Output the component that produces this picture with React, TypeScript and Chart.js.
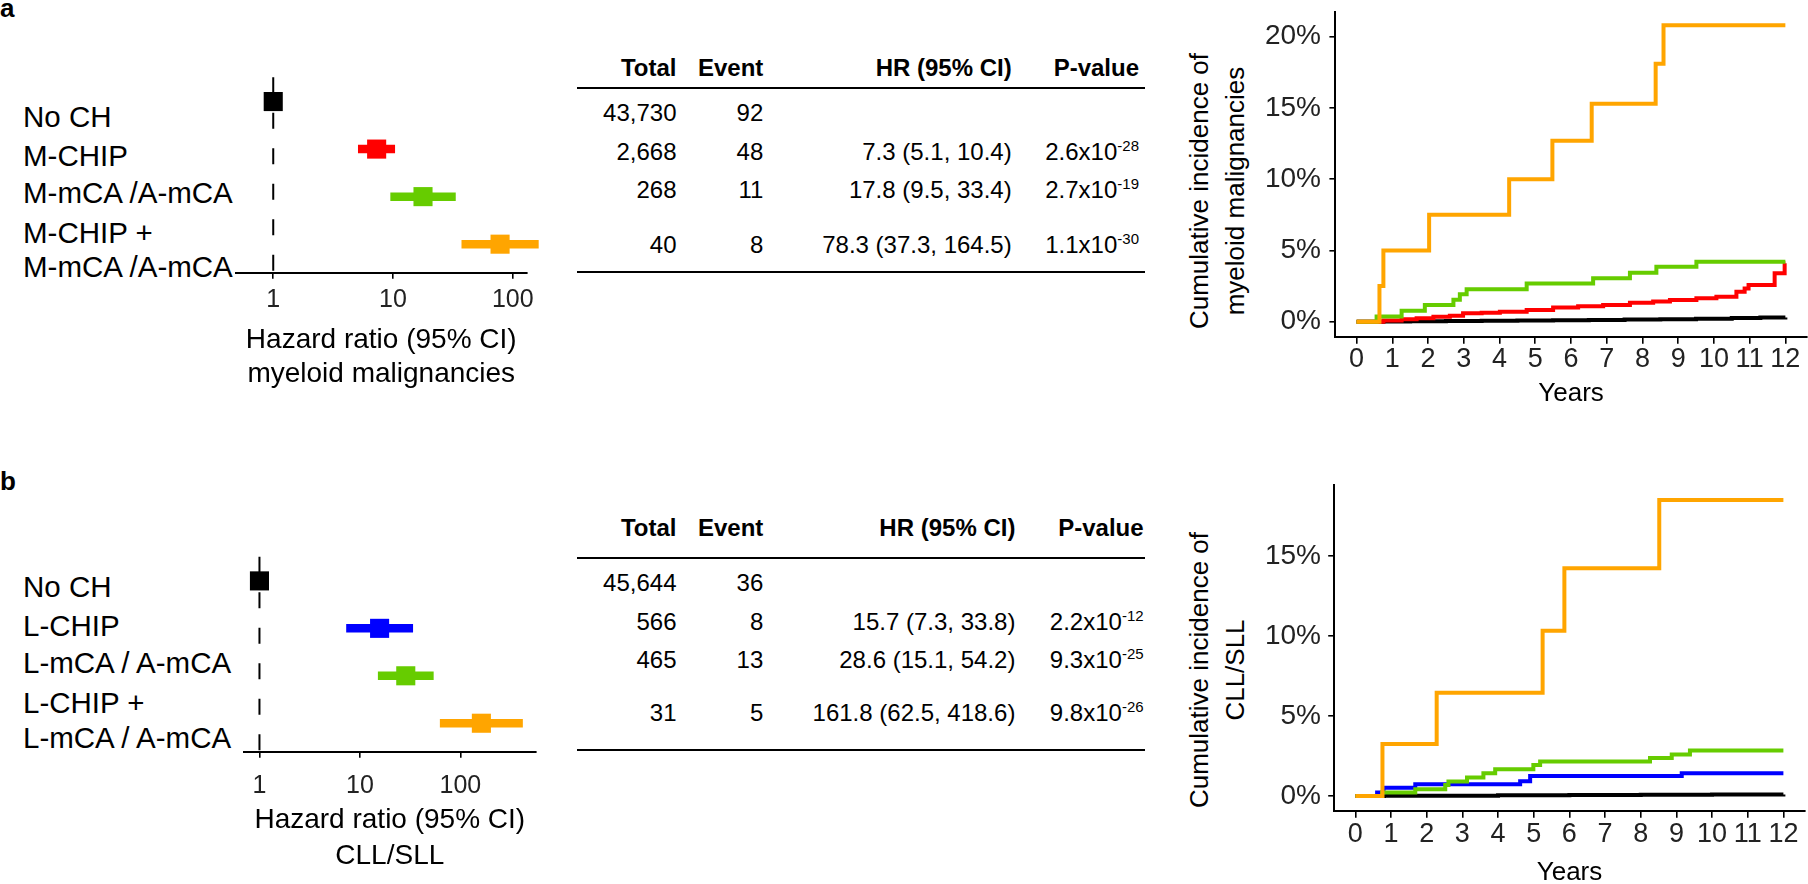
import React, { useEffect, useRef } from 'react';
import { Chart, registerables } from 'chart.js';

Chart.register(...registerables);

const FONT = '"Liberation Sans", Arial, Helvetica, sans-serif';
Chart.defaults.font.family = FONT;
Chart.defaults.color = '#000';

// ---------------- Panel a : myeloid malignancies ----------------
const A_LABEL_LINES = [['No CH'], ['M-CHIP'], ['M-mCA /A-mCA'], ['M-CHIP +', 'M-mCA /A-mCA']];
const A_HR = [1, 7.3, 17.8, 78.3];
const A_LO = [null, 5.1, 9.5, 37.3];
const A_HI = [null, 10.4, 33.4, 164.5];
const A_TOTAL = ['43,730', '2,668', '268', '40'];
const A_EVENTS = ['92', '48', '11', '8'];
const A_P_MANTISSA = ['', '2.6', '2.7', '1.1'];
const A_P_EXPONENT = ['', '-28', '-19', '-30'];
const A_COLORS = ['#000000', '#FF0000', '#66CC00', '#FFA500'];
const A_TITLE = ['Hazard ratio (95% CI)', 'myeloid malignancies'];
const A_KM_TITLE = ['Cumulative incidence of', 'myeloid malignancies'];

// cumulative incidence (%) step curves, panel a
const KMA_ORANGE_T = [0, 0.64, 0.75, 2.03, 4.27, 5.48, 6.58, 8.37, 8.59, 12];
const KMA_ORANGE_V = [0, 2.5, 5.0, 7.5, 10.0, 12.7, 15.3, 18.1, 20.8, 20.8];
const KMA_GREEN_T = [0, 0.56, 1.26, 1.91, 2.71, 2.89, 3.08, 4.76, 6.62, 7.65, 8.39, 9.51, 12];
const KMA_GREEN_V = [0, 0.37, 0.77, 1.17, 1.55, 1.92, 2.28, 2.69, 3.05, 3.44, 3.86, 4.21, 4.21];
const KMA_RED_T = [0, 0.75, 1.26, 1.68, 2.15, 2.61, 2.98, 3.5, 4.01, 4.76, 5.5, 6.2, 6.9, 7.65, 8.3, 8.77, 9.51, 10.07, 10.63, 10.86, 10.97, 11.7, 11.98, 12];
const KMA_RED_V = [0, 0.08, 0.17, 0.24, 0.35, 0.42, 0.59, 0.63, 0.7, 0.82, 1.0, 1.08, 1.17, 1.33, 1.42, 1.52, 1.64, 1.75, 2.1, 2.34, 2.58, 3.4, 4.1, 4.1];
const KMA_BLACK_T = [0, 0.75, 1.5, 2.5, 3.5, 4.5, 5.5, 6.5, 7.5, 8.5, 9.5, 10.5, 11.3, 12];
const KMA_BLACK_V = [0, 0.01, 0.03, 0.05, 0.07, 0.09, 0.11, 0.13, 0.15, 0.17, 0.21, 0.26, 0.29, 0.3];

// ---------------- Panel b : CLL/SLL ----------------
const B_LABEL_LINES = [['No CH'], ['L-CHIP'], ['L-mCA / A-mCA'], ['L-CHIP +', 'L-mCA / A-mCA']];
const B_HR = [1, 15.7, 28.6, 161.8];
const B_LO = [null, 7.3, 15.1, 62.5];
const B_HI = [null, 33.8, 54.2, 418.6];
const B_TOTAL = ['45,644', '566', '465', '31'];
const B_EVENTS = ['36', '8', '13', '5'];
const B_P_MANTISSA = ['', '2.2', '9.3', '9.8'];
const B_P_EXPONENT = ['', '-12', '-25', '-26'];
const B_COLORS = ['#000000', '#0000FF', '#66CC00', '#FFA500'];
const B_TITLE = ['Hazard ratio (95% CI)', 'CLL/SLL'];
const B_KM_TITLE = ['Cumulative incidence of', 'CLL/SLL'];

const KMB_ORANGE_T = [0, 0.76, 2.28, 5.25, 5.86, 8.52, 12];
const KMB_ORANGE_V = [0, 3.25, 6.46, 10.33, 14.23, 18.5, 18.5];
const KMB_GREEN_T = [0, 0.75, 1.68, 2.52, 2.61, 3.13, 3.59, 3.92, 4.99, 5.18, 8.26, 8.87, 9.38, 12];
const KMB_GREEN_V = [0, 0.21, 0.42, 0.69, 0.9, 1.15, 1.42, 1.67, 1.94, 2.15, 2.38, 2.6, 2.85, 2.85];
const KMB_BLUE_T = [0, 0.61, 0.79, 1.68, 4.62, 4.9, 9.15, 12];
const KMB_BLUE_V = [0, 0.21, 0.52, 0.73, 0.92, 1.25, 1.42, 1.42];
const KMB_BLACK_T = [0, 0.8, 2, 4, 6, 8, 10, 12];
const KMB_BLACK_V = [0, 0.01, 0.02, 0.04, 0.06, 0.08, 0.09, 0.1];

// ---------------- axes ----------------
const FOREST_TICKS = [1, 10, 100];
const REF_HR = 1;
const KM_X_TICKS = [0, 1, 2, 3, 4, 5, 6, 7, 8, 9, 10, 11, 12];
const KMA_Y_TICKS = [0, 5, 10, 15, 20];
const KMB_Y_TICKS = [0, 5, 10, 15];
const TABLE_HEADERS = ['Total', 'Event', 'HR (95% CI)', 'P-value'];

const hrText = (hr: number[], lo: (number | null)[], hi: (number | null)[], i: number) =>
  lo[i] == null ? '' : `${hr[i].toFixed(1)} (${(lo[i] as number).toFixed(1)}, ${(hi[i] as number).toFixed(1)})`;

const refLinePlugin = {
  id: 'refLine',
  beforeDatasetsDraw(chart: any, _args: any, opts: any) {
    const { ctx, chartArea, scales } = chart;
    const x = scales.x.getPixelForValue(opts.value);
    ctx.save();
    ctx.strokeStyle = '#000';
    ctx.lineWidth = 2;
    ctx.setLineDash([16, 19.5]);
    ctx.beginPath();
    ctx.moveTo(x, chartArea.top);
    ctx.lineTo(x, chartArea.bottom);
    ctx.stroke();
    ctx.restore();
  },
};

function forestConfig(p: any) {
  const rows = p.hr.map((_: number, i: number) => i);
  const ciSets = rows
    .filter((i: number) => p.lo[i] != null)
    .map((i: number) => ({
      type: 'line',
      data: [{ x: p.lo[i], y: i }, { x: p.hi[i], y: i }],
      borderColor: p.colors[i],
      borderWidth: 8.5,
      borderCapStyle: 'butt',
      pointRadius: 0,
      showLine: true,
      clip: false,
      order: 2,
    }));
  const squares = {
    type: 'scatter',
    data: rows.map((i: number) => ({ x: p.hr[i], y: i })),
    pointStyle: 'rect',
    pointRadius: 13.5,
    pointBackgroundColor: p.colors,
    pointBorderWidth: 0,
    showLine: false,
    clip: false,
    order: 1,
  };
  return {
    type: 'scatter',
    data: { datasets: [squares, ...ciSets] },
    plugins: [refLinePlugin],
    options: {
      animation: false,
      responsive: false,
      maintainAspectRatio: false,
      events: [],
      layout: { padding: p.padding },
      plugins: { legend: { display: false }, tooltip: { enabled: false }, refLine: { value: REF_HR } },
      scales: {
        x: {
          type: 'logarithmic',
          min: p.xMin,
          max: p.xMax,
          afterBuildTicks: (s: any) => { s.ticks = FOREST_TICKS.map((v) => ({ value: v })); },
          afterFit: (s: any) => { s.height = p.xHeight; },
          ticks: {
            callback: (v: any) => String(v),
            font: { family: FONT, size: 25 },
            color: '#222',
            padding: p.tickPad,
            maxRotation: 0,
            autoSkip: false,
          },
          grid: { display: true, drawOnChartArea: false, drawTicks: true, tickLength: 6, color: '#000', lineWidth: 1.6 },
          border: { display: true, color: '#000', width: 2 },
          title: {
            display: true,
            text: p.title,
            color: '#000',
            font: { family: FONT, size: 28, lineHeight: p.titleLH / 28 },
            padding: { top: 0, bottom: p.titlePad },
          },
        },
        y: { type: 'linear', display: false, min: -0.51, max: 3.6, reverse: true },
      },
    },
  };
}

function kmConfig(p: any) {
  const datasets = p.series.map((s: any) => ({
    data: s.t.map((t: number, i: number) => ({ x: t, y: s.v[i] })),
    borderColor: s.color,
    borderWidth: 4,
    pointRadius: 0,
    stepped: 'before',
    fill: false,
    borderCapStyle: 'butt',
    borderJoinStyle: 'miter',
  }));
  return {
    type: 'line',
    data: { datasets },
    options: {
      animation: false,
      responsive: false,
      maintainAspectRatio: false,
      events: [],
      layout: { padding: p.padding },
      plugins: { legend: { display: false }, tooltip: { enabled: false } },
      scales: {
        x: {
          type: 'linear',
          min: -0.593,
          max: 12.6,
          afterBuildTicks: (s: any) => { s.ticks = KM_X_TICKS.map((v) => ({ value: v })); },
          afterFit: (s: any) => { s.height = p.xHeight; },
          ticks: { callback: (v: any) => String(v), font: { family: FONT, size: 27 }, color: '#222', padding: p.xTickPad, maxRotation: 0, autoSkip: false },
          grid: { display: true, drawOnChartArea: false, drawTicks: true, tickLength: 7, color: '#000', lineWidth: 1.6 },
          border: { display: true, color: '#000', width: 2 },
          title: { display: true, text: 'Years', color: '#000', font: { family: FONT, size: 26 }, padding: { top: 0, bottom: p.yearsPad } },
        },
        y: {
          type: 'linear',
          min: p.yMin,
          max: p.yMax,
          afterBuildTicks: (s: any) => { s.ticks = p.yTicks.map((v: number) => ({ value: v })); },
          afterFit: (s: any) => { s.width = p.yWidth; },
          ticks: { callback: (v: any) => `${v}%`, font: { family: FONT, size: 28 }, color: '#222', padding: p.yTickPad },
          grid: { display: true, drawOnChartArea: false, drawTicks: true, tickLength: 6, color: '#000', lineWidth: 1.6 },
          border: { display: true, color: '#000', width: 2 },
        },
      },
    },
  };
}

function ChartBox({ left, top, width, height, make }: any) {
  const ref = useRef<HTMLCanvasElement>(null);
  useEffect(() => {
    const chart = new Chart(ref.current as HTMLCanvasElement, make());
    return () => chart.destroy();
  }, []);
  return <canvas ref={ref} width={width} height={height} style={{ position: 'absolute', left, top, width, height }} />;
}

function Txt({ x, base, size, bold, align = 'left', children }: any) {
  const top = base - size * 0.8465;
  const tx = align === 'right' ? 'translateX(-100%)' : align === 'center' ? 'translateX(-50%)' : 'none';
  return (
    <div style={{ position: 'absolute', left: x, top, fontSize: size, lineHeight: `${size}px`, fontWeight: bold ? 700 : 400, whiteSpace: 'nowrap', transform: tx, color: '#000' }}>
      {children}
    </div>
  );
}

function Rule({ x1, x2, y }: any) {
  return <div style={{ position: 'absolute', left: x1, top: y - 1, width: x2 - x1, height: 2, background: '#000' }} />;
}

function RowLabels({ lines, baselines }: any) {
  const flat: string[] = lines.flat();
  return <>{flat.map((t, i) => <Txt key={i} x={23} base={baselines[i]} size={29.5}>{t}</Txt>)}</>;
}

function Table({ L, total, events, hr, lo, hi, pm, pe }: any) {
  const cols = [L.total, L.event, L.hr, L.p];
  return (
    <>
      {TABLE_HEADERS.map((h, i) => <Txt key={h} x={cols[i]} base={L.header} size={24} bold align="right">{h}</Txt>)}
      <Rule x1={577} x2={1145} y={L.rule1} />
      {total.map((_: string, i: number) => (
        <React.Fragment key={i}>
          <Txt x={L.total} base={L.rows[i]} size={24} align="right">{total[i]}</Txt>
          <Txt x={L.event} base={L.rows[i]} size={24} align="right">{events[i]}</Txt>
          <Txt x={L.hr} base={L.rows[i]} size={24} align="right">{hrText(hr, lo, hi, i)}</Txt>
          {pm[i] ? (
            <Txt x={L.p} base={L.rows[i]} size={24} align="right">
              {pm[i]}x10<span style={{ fontSize: 15, verticalAlign: '9px', lineHeight: 0 }}>{pe[i]}</span>
            </Txt>
          ) : null}
        </React.Fragment>
      ))}
      <Rule x1={577} x2={1145} y={L.rule2} />
    </>
  );
}

function KmTitle({ cx, cy, lines }: any) {
  return (
    <div style={{ position: 'absolute', left: cx, top: cy, transform: 'translate(-50%,-50%) rotate(-90deg)', fontSize: 26, lineHeight: '36px', textAlign: 'center', whiteSpace: 'nowrap', color: '#000' }}>
      {lines.map((l: string) => <div key={l}>{l}</div>)}
    </div>
  );
}

export default function App() {
  return (
    <div style={{ position: 'fixed', left: 0, top: 0, width: 1808, height: 884, overflow: 'hidden', background: '#fff', fontFamily: FONT }}>
      {/* panel letters */}
      <Txt x={0} base={17} size={26} bold>a</Txt>
      <Txt x={0} base={490} size={26} bold>b</Txt>

      {/* ---------- panel a ---------- */}
      <RowLabels lines={A_LABEL_LINES} baselines={[126.7, 165.7, 203.3, 243.3, 277.3]} />
      <ChartBox left={200} top={60} width={380} height={360}
        make={() => forestConfig({
          hr: A_HR, lo: A_LO, hi: A_HI, colors: A_COLORS, xMin: 0.486, xMax: 130.9,
          padding: { left: 35.7, right: 53.2, top: 17.3, bottom: 0 },
          xHeight: 147.3, tickPad: 6.3, title: A_TITLE, titleLH: 34, titlePad: 28.7,
        })} />
      <Table L={{ header: 76.7, rule1: 88.3, rows: [121.7, 160, 198.3, 253.3], rule2: 271.7, total: 676.5, event: 763.3, hr: 1011.7, p: 1139 }}
        total={A_TOTAL} events={A_EVENTS} hr={A_HR} lo={A_LO} hi={A_HI} pm={A_P_MANTISSA} pe={A_P_EXPONENT} />
      <KmTitle cx={1217} cy={190.8} lines={A_KM_TITLE} />
      <ChartBox left={1160} top={-40} width={648} height={460}
        make={() => kmConfig({
          series: [
            { t: KMA_ORANGE_T, v: KMA_ORANGE_V, color: A_COLORS[3] },
            { t: KMA_GREEN_T, v: KMA_GREEN_V, color: A_COLORS[2] },
            { t: KMA_RED_T, v: KMA_RED_V, color: A_COLORS[1] },
            { t: KMA_BLACK_T, v: KMA_BLACK_V, color: A_COLORS[0] },
          ],
          yMin: -1.05, yMax: 21.75, yTicks: KMA_Y_TICKS,
          padding: { left: 0, right: 1.2, top: 51.7, bottom: 0 },
          yWidth: 175.4, xHeight: 83.3, xTickPad: 0, yearsPad: 10.4, yTickPad: 8.4,
        })} />

      {/* ---------- panel b ---------- */}
      <RowLabels lines={B_LABEL_LINES} baselines={[596.7, 636, 673.3, 713.3, 748.3]} />
      <ChartBox left={200} top={540} width={380} height={360}
        make={() => forestConfig({
          hr: B_HR, lo: B_LO, hi: B_HI, colors: B_COLORS, xMin: 0.741, xMax: 562,
          padding: { left: 43.9, right: 44.3, top: 16.7, bottom: 0 },
          xHeight: 148.3, tickPad: 13.3, title: B_TITLE, titleLH: 36, titlePad: 25.7,
        })} />
      <Table L={{ header: 536.7, rule1: 558.3, rows: [591.7, 630, 668.3, 721.7], rule2: 750, total: 676.5, event: 763.3, hr: 1015.4, p: 1143.6 }}
        total={B_TOTAL} events={B_EVENTS} hr={B_HR} lo={B_LO} hi={B_HI} pm={B_P_MANTISSA} pe={B_P_EXPONENT} />
      <KmTitle cx={1217} cy={670} lines={B_KM_TITLE} />
      <ChartBox left={1160} top={440} width={648} height={470}
        make={() => kmConfig({
          series: [
            { t: KMB_ORANGE_T, v: KMB_ORANGE_V, color: B_COLORS[3] },
            { t: KMB_GREEN_T, v: KMB_GREEN_V, color: B_COLORS[2] },
            { t: KMB_BLUE_T, v: KMB_BLUE_V, color: B_COLORS[1] },
            { t: KMB_BLACK_T, v: KMB_BLACK_V, color: B_COLORS[0] },
          ],
          yMin: -0.92, yMax: 19.44, yTicks: KMB_Y_TICKS,
          padding: { left: 0, right: 3.2, top: 45, bottom: 0 },
          yWidth: 174.2, xHeight: 99.3, xTickPad: 1.1, yearsPad: 21.1, yTickPad: 7.2,
        })} />
    </div>
  );
}
